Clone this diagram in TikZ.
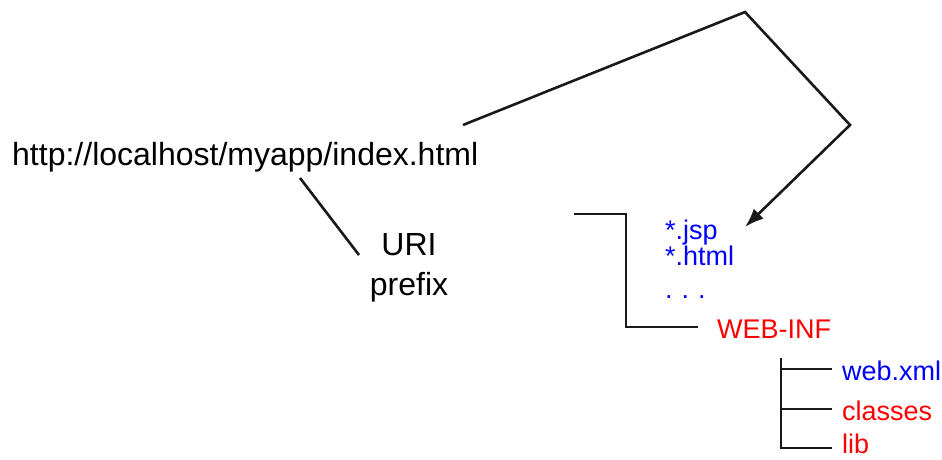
\documentclass[tikz,border=0pt]{standalone}
\usepackage{fontspec}
\setmainfont{Liberation Sans}
\usetikzlibrary{arrows.meta}
\definecolor{tblue}{RGB}{0,0,255}
\definecolor{tred}{RGB}{255,0,0}
\begin{document}
\begin{tikzpicture}[x=1pt,y=-1pt,
  big/.style={inner sep=0pt,anchor=base west,font=\fontsize{32}{40}\selectfont},
  small/.style={inner sep=0pt,anchor=base west,font=\fontsize{27}{32}\selectfont},
  conn/.style={line width=2.6pt,line join=miter,color=black!90}]
\useasboundingbox (0,0) rectangle (942,460);
% texts
\node[big] (url) at (12,165) {http://localhost/myapp/index.html};
\node[big,anchor=base] (uri) at (409,255) {URI};
\node[big,anchor=base] (prefix) at (409,295) {prefix};
\node[small,text=tblue] (jsp) at (665,239) {*.jsp};
\node[small,text=tblue] (html) at (665,265) {*.html};
\node[small,text=tblue] (dots) at (665,298) {.\,\,.\,\,.};
\node[small,text=tred] (webinf) at (717,338) {WEB-INF};
\node[small,text=tblue] (webxml) at (842,380) {web.xml};
\node[small,text=tred] (classes) at (842,420) {classes};
\node[small,text=tred] (lib) at (842,453) {lib};
% coordinates
\coordinate (p1) at (300,178);
\coordinate (p2) at (359,255);
\coordinate (a0) at (463,125);
\coordinate (a1) at (745,12);
\coordinate (a2) at (850,125);
\coordinate (a3) at (745,227);
\coordinate (b0) at (574,214);
\coordinate (b1) at (626,214);
\coordinate (b2) at (626,327);
\coordinate (b3) at (698,327);
\coordinate (c0) at (781,358);
\coordinate (c1) at (781,448);
\coordinate (cw) at (832,369);
\coordinate (cc) at (832,409);
\coordinate (cl) at (832,448);
% connectors
\draw[conn] (p1) -- (p2);
\draw[conn,-{Latex[length=19pt,width=14pt]}] (a0) -- (a1) -- (a2) -- (a3);
\draw[conn] (b0) -- (b1) -- (b2) -- (b3);
\draw[conn] (c0) -- (c1) -- (cl);
\draw[conn] (c0 |- cw) -- (cw);
\draw[conn] (c0 |- cc) -- (cc);
\end{tikzpicture}
\end{document}
